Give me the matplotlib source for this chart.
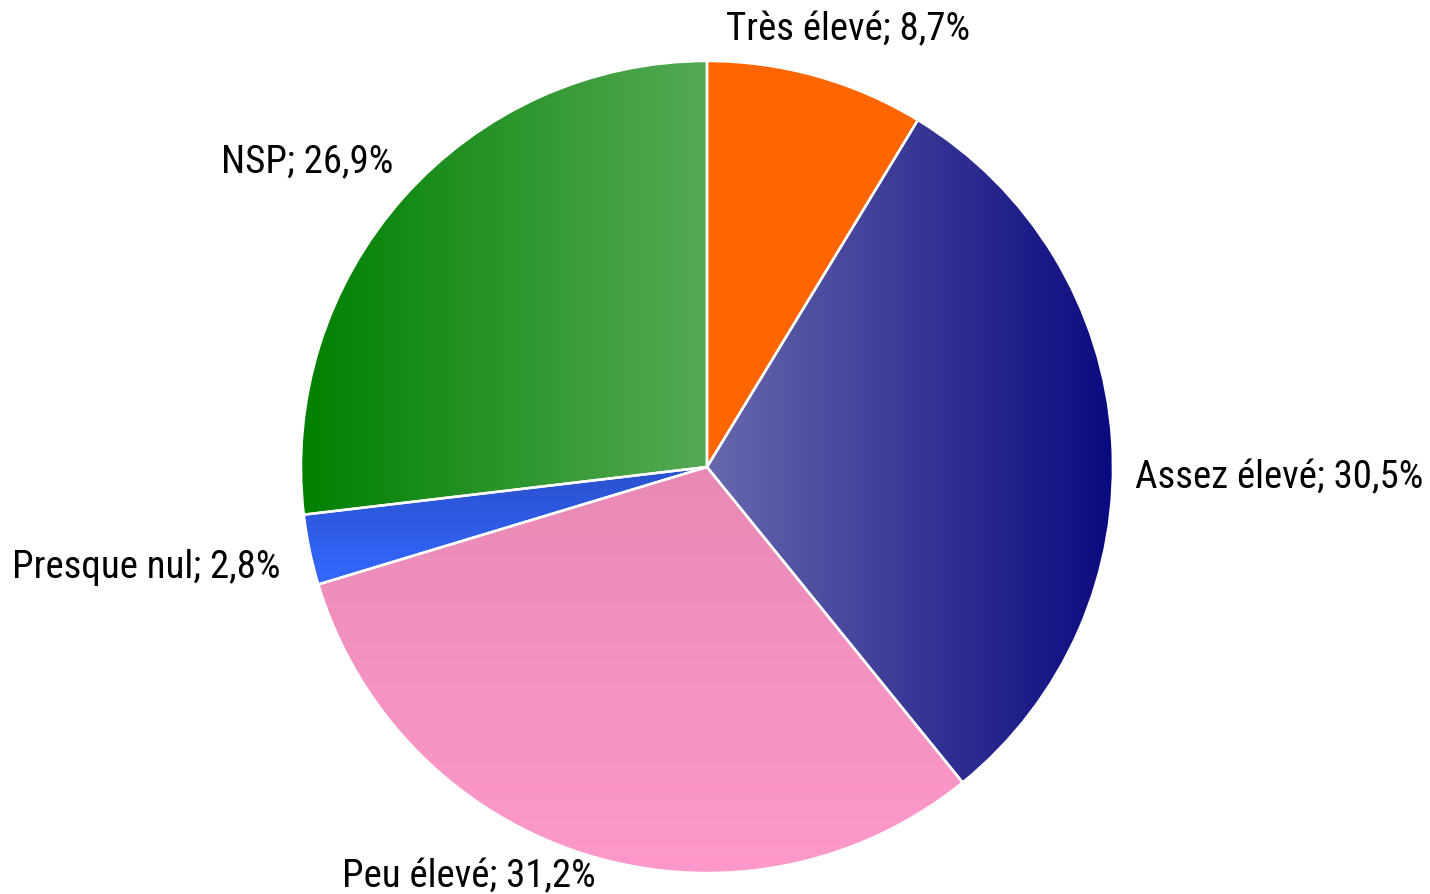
import numpy as np
import matplotlib
matplotlib.use("Agg")
import matplotlib.pyplot as plt
from matplotlib.colors import LinearSegmentedColormap

labels = ["Très élevé", "Assez élevé", "Peu élevé", "Presque nul", "NSP"]
values = [8.7, 30.5, 31.2, 2.8, 26.9]
# gradient colours: (start, end, direction)
grad_colors = [
    ("#FF6600", "#FF6600", "h"),
    ("#6868AE", "#0A0A80", "h"),
    ("#FF99CC", "#E88AB4", "v"),
    ("#3468FF", "#2A50CC", "v"),
    ("#008000", "#55AA55", "h"),
]
label_text = [f"{l}; {str(v).replace('.', ',')}%" for l, v in zip(labels, values)]

family = ["Roboto Condensed", "DejaVu Sans"]

W, H = 1430, 895
fig = plt.figure(figsize=(W / 100, H / 100), dpi=100)
ax = fig.add_axes([0, 0, 1, 1])

cx, cy, r = 707, 895 - 468, 406
wedges, _ = ax.pie(values, startangle=90, counterclock=False, center=(cx, cy),
                   radius=r, frame=True,
                   wedgeprops=dict(edgecolor="white", linewidth=1.8, facecolor="none", zorder=3))

for w, (c0, c1, d) in zip(wedges, grad_colors):
    cmap = LinearSegmentedColormap.from_list("g", [c0, c1])
    grad = np.linspace(0, 1, 256)
    img = grad[None, :] if d == "h" else grad[:, None]
    bb = w.get_path().get_extents(w.get_patch_transform())
    im = ax.imshow(img, cmap=cmap, extent=[bb.x0, bb.x1, bb.y0, bb.y1],
                   origin="lower", aspect="auto", zorder=2, interpolation="bilinear")
    im.set_clip_path(w)

ax.set_xlim(0, W)
ax.set_ylim(0, H)
ax.set_aspect("equal")
ax.axis("off")

fs = 28
kw = dict(fontsize=fs, family=family, va="center", color="black", fontweight="normal")
ax.text(848, 895 - 30, label_text[0], ha="center", **kw)
ax.text(1135, 895 - 478, label_text[1], ha="left", **kw)
ax.text(469, 895 - 877, label_text[2], ha="center", **kw)
ax.text(281, 895 - 567, label_text[3], ha="right", **kw)
ax.text(393, 895 - 162, label_text[4], ha="right", **kw)

fig.savefig("out.png", dpi=100, facecolor="white")
